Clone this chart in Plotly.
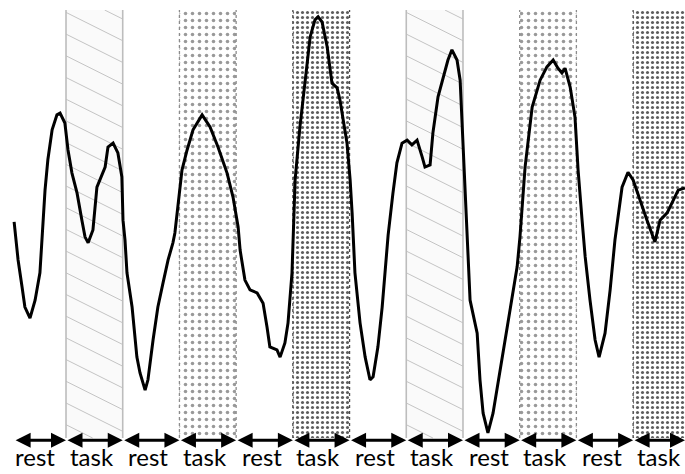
import plotly.graph_objects as go

# ---- data -------------------------------------------------------------
time_s = [1.7, 3.1, 4.5, 5.5, 7.3, 9.1, 10.8, 11.5, 12.6, 13.6, 15.1, 16.8, 17.9, 19.6,
          20.7, 22.1, 23.9, 25.6, 26.7, 27.8, 29.5, 30.9, 32.0, 33.8, 34.8, 36.6, 38.3,
          39.7, 40.1, 40.8, 41.5, 43.3, 45.0, 46.1, 47.9, 48.9, 50.7, 52.4, 54.2, 56.0,
          57.7, 58.4, 60.9, 62.7, 64.8, 68.0, 70.8, 73.6, 76.8, 78.9, 80.7, 81.4, 83.1,
          84.9, 87.4, 89.5, 90.9, 91.9, 94.4, 95.5, 97.2, 98.3, 99.7, 100.1, 100.8, 102.5,
          103.6, 105.0, 106.1, 107.8, 108.9, 110.3, 112.1, 113.8, 115.6, 116.6, 117.7,
          119.1, 120.2, 120.9, 121.9, 123.7, 125.5, 127.2, 128.3, 130.0, 131.5, 132.5,
          133.6, 135.3, 136.7, 138.5, 140.3, 142.0, 143.8, 145.6, 146.6, 148.4, 149.4,
          151.2, 153.0, 154.7, 156.1, 157.9, 159.0, 159.7, 160.4, 161.4, 162.5, 165.0,
          166.0, 167.1, 168.8, 170.6, 172.4, 174.8, 177.3, 179.1, 180.1, 181.9, 184.4,
          187.2, 189.6, 191.8, 193.5, 194.9, 196.0, 197.8, 199.5, 200.6, 202.0, 203.1,
          204.8, 206.6, 208.0, 210.1, 211.9, 213.6, 216.1, 218.2, 220.0, 222.4, 224.9,
          227.7, 229.5, 232.0, 234.1, 235.9, 238.3]
signal = [50.5, 41.6, 35.3, 30.6, 28.0, 32.2, 38.6, 46.3, 57.9, 65.0, 72.0, 75.5, 75.9, 73.6,
          67.3, 61.9, 57.2, 50.9, 47.0, 45.6, 48.6, 58.6, 60.3, 63.3, 68.0, 68.9, 66.6,
          61.0, 50.9, 46.3, 38.6, 30.6, 18.9, 15.2, 11.2, 13.6, 22.9, 30.6, 36.2, 41.6,
          45.6, 47.9, 62.6, 67.3, 72.0, 75.5, 72.7, 68.0, 61.9, 56.3, 49.3, 43.9, 36.9,
          34.6, 33.9, 31.5, 25.9, 21.3, 20.6, 18.9, 22.2, 26.9, 38.6, 46.3, 60.3, 72.7,
          79.0, 86.7, 93.7, 97.7, 98.4, 97.2, 91.4, 82.9, 81.8, 79.0, 74.3,
          68.9, 60.3, 52.6, 38.6, 26.9, 18.9, 13.6, 14.3, 21.3, 30.6, 38.6,
          47.4, 57.2, 64.3, 68.9, 69.6, 68.5, 69.6, 65.7, 63.3, 63.8, 71.3,
          79.7, 84.3, 88.3, 90.7, 88.3, 83.6, 72.7, 61.9, 47.9, 32.2, 24.5,
          13.6, 5.8, 1.2, 5.8, 12.9, 22.9, 32.9, 40.0, 47.0, 63.3, 77.3,
          83.6, 86.7, 88.3, 86.4, 85.3, 86.4, 82.0, 75.0, 62.6, 50.9, 42.3,
          32.2, 22.9, 18.9, 24.5, 34.6, 46.3, 58.6, 62.1, 60.3, 55.6, 50.9,
          45.8, 50.9, 52.6, 55.6, 57.9, 58.4]

block_labels = ["rest", "task", "rest", "task", "rest", "task",
                "rest", "task", "rest", "task", "rest", "task"]
block_starts = [0, 20, 40, 60, 80, 100, 120, 140, 160, 180, 200, 220]
block_ends = [20, 40, 60, 80, 100, 120, 140, 160, 180, 200, 220, 240]
task_styles = ["lines", "sparse", "dense", "lines", "sparse", "dense"]

X_MIN, X_MAX = -3.28, 238.3
Y_TOP = 100.0
Y_MIN = -8.41

fig = go.Figure()

tasks = [(s, e) for s, e, l in zip(block_starts, block_ends, block_labels) if l == "task"]

# background fills / patterns of task blocks
style_cfg = {
    "lines": dict(color="#fafafa", pattern=None),
    "sparse": dict(color="white", pattern=dict(shape=".", size=7, solidity=0.2,
                                                fgcolor="#999999", bgcolor="white",
                                                fillmode="replace")),
    "dense": dict(color="white", pattern=dict(shape=".", size=5, solidity=0.3,
                                               fgcolor="#5e5e5e", bgcolor="white",
                                               fillmode="replace")),
}
for style in ["lines", "sparse", "dense"]:
    xs = [(s + e) / 2 for (s, e), st in zip(tasks, task_styles) if st == style]
    ws = [e - s for (s, e), st in zip(tasks, task_styles) if st == style]
    cfg = style_cfg[style]
    marker = dict(color=cfg["color"], line=dict(width=0))
    if cfg["pattern"]:
        marker["pattern"] = cfg["pattern"]
    fig.add_trace(go.Bar(x=xs, y=[Y_TOP] * len(xs), width=ws, base=0,
                         marker=marker, hoverinfo="skip", showlegend=False))

# diagonal hatch lines for the "lines" blocks
slope = -0.331      # value units per second
spacing = 5.07
hx, hy = [], []
for (s, e), st in zip(tasks, task_styles):
    if st != "lines":
        continue
    c = Y_TOP + 40
    while c > -10:
        x0, y0 = s, c
        x1, y1 = e, c + slope * (e - s)
        if y0 > Y_TOP:
            x0 = s + (Y_TOP - c) / slope
            y0 = Y_TOP
        if y1 < 0:
            x1 = s + (0 - c) / slope
            y1 = 0
        if x0 < x1 and y0 >= 0 and y1 <= Y_TOP:
            hx += [x0, x1, None]
            hy += [y0, y1, None]
        c -= spacing
fig.add_trace(go.Scatter(x=hx, y=hy, mode="lines", line=dict(color="#c4c4c4", width=1),
                         hoverinfo="skip", showlegend=False))

# block edges
edge_cfg = {"lines": dict(color="#bdbdbd", width=1.6, dash="solid"),
            "sparse": dict(color="#8c8c8c", width=1.3, dash="dot"),
            "dense": dict(color="#4a4a4a", width=1.3, dash="dot")}
for style in ["lines", "sparse", "dense"]:
    ex, ey = [], []
    for (s, e), st in zip(tasks, task_styles):
        if st != style:
            continue
        for xe in (s, e):
            if xe < X_MAX:
                ex += [xe, xe, None]
                ey += [0, Y_TOP, None]
    fig.add_trace(go.Scatter(x=ex, y=ey, mode="lines", line=edge_cfg[style],
                             hoverinfo="skip", showlegend=False))

# signal
fig.add_trace(go.Scatter(x=time_s, y=signal, mode="lines",
                         line=dict(color="black", width=3), showlegend=False))

# arrows and labels
arrow_y = -0.5
for s, e, lab in zip(block_starts, block_ends, block_labels):
    a0 = max(s, time_s[0])
    a1 = min(e, X_MAX)
    fig.add_annotation(x=a1, y=arrow_y, ax=a0, ay=arrow_y, axref="x", ayref="y",
                       xref="x", yref="y", text="", showarrow=True,
                       arrowside="end+start", arrowhead=2, arrowsize=1.0,
                       arrowwidth=3, arrowcolor="black", standoff=0, startstandoff=0)
    fig.add_annotation(x=(s + e) / 2 - 1.0, y=0, xref="x", yref="paper",
                       yanchor="bottom", yshift=1, text=lab, showarrow=False,
                       font=dict(family="Lato", size=24, color="black"))

fig.update_layout(
    width=685, height=474,
    margin=dict(l=0, r=0, t=10, b=0),
    paper_bgcolor="white", plot_bgcolor="white",
    barmode="overlay",
    xaxis=dict(range=[X_MIN, X_MAX], visible=False),
    yaxis=dict(range=[Y_MIN, Y_TOP], visible=False),
)

fig.write_html("out.html", config={"displayModeBar": False},
               post_script="document.body.style.margin='0';document.body.style.overflow='hidden';")
